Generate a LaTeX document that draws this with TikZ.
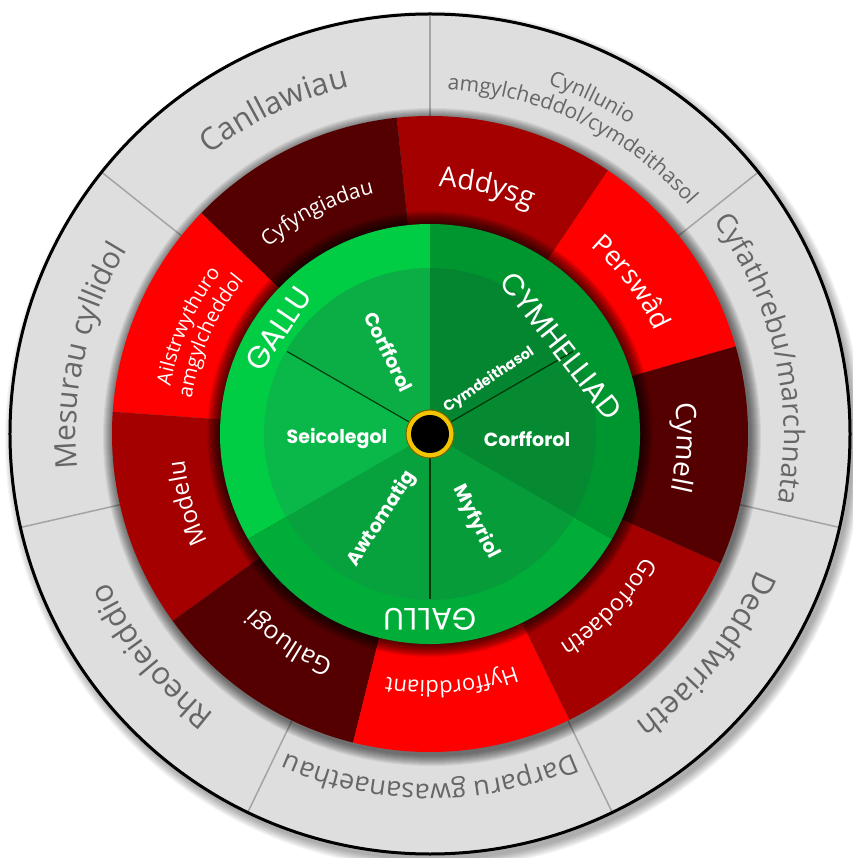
\documentclass[tikz,border=0pt]{standalone}
\usepackage{fontspec}
\setmainfont{Open Sans}
\newfontfamily\popfont{Poppins}
\usetikzlibrary{decorations.text}
\definecolor{greyfill}{HTML}{DEDEDE}
\definecolor{greytxt}{HTML}{666666}
\definecolor{divline}{HTML}{A4A4A4}
\definecolor{redA}{HTML}{FF0000}
\definecolor{redB}{HTML}{A50000}
\definecolor{redC}{HTML}{550000}
\definecolor{gOutL}{HTML}{00CC44}
\definecolor{gOutR}{HTML}{00962F}
\definecolor{gOutB}{HTML}{00AD38}
\definecolor{gInA}{HTML}{0AAE45}
\definecolor{gInB}{HTML}{0AB84A}
\definecolor{gInC}{HTML}{07A23E}
\definecolor{gInD}{HTML}{069C3A}
\definecolor{gInE}{HTML}{058A32}
\definecolor{gInF}{HTML}{04852F}
\definecolor{ringY}{HTML}{F2C500}
\definecolor{ringD}{HTML}{7A6400}
\newcommand\arcText[5]{%
  \path[decorate,decoration={text along path,text align=center,text={|#4|#5}}]
    ({#2+#3}:#1) arc[start angle={#2+#3},end angle={#2-#3},radius=#1];}
\newcommand\pieSlice[4]{\fill[#1] (0,0) -- ({#2}:#4) arc[start angle={#2},end angle={#3},radius=#4] -- cycle;}
\newcommand\gfont[1]{\fontsize{#1pt}{#1pt}\selectfont\color{greytxt}}
\newcommand\rfont[1]{\fontsize{#1pt}{#1pt}\selectfont\color{white}}
\begin{document}
\begin{tikzpicture}[x=1pt,y=1pt,
  gallu/.style={text=white,inner sep=0pt,font=\popfont\fontsize{31pt}{31pt}\selectfont},
  inlab/.style={text=white,inner sep=0pt,font=\popfont\bfseries\fontsize{19pt}{19pt}\selectfont}]
\useasboundingbox (-430,-424) rectangle (422,434);
\fill[white] (-430,-424) rectangle (422,434);
% outer drop shadow
\foreach \k in {0,...,9} \fill[black,opacity=0.035] (4,-6) circle ({420+\k});
% grey ring
\fill[greyfill] (0,0) circle (420);
\foreach \a in {0,...,6} \draw[divline,line width=1.5pt] ({90+\a*360/7}:318) -- ({90+\a*360/7}:420);
% red ring shadow
\foreach \k in {1,...,11} \fill[black,opacity=0.06] (2,-3) circle ({318+\k});
% red ring
\foreach \a/\c in {16/redA,56/redB,96/redC,136/redA,176/redB,216/redC,256/redA,296/redB,336/redC}
  \pieSlice{\c}{\a}{\a+40}{318};
% green shadow
\foreach \k in {1,...,13} \fill[black,opacity=0.07] (0,0) circle ({210+\k});
% green outer ring
\pieSlice{gOutL}{90}{210}{210}
\pieSlice{gOutB}{210}{330}{210}
\pieSlice{gOutR}{-30}{90}{210}
% inner disk
\pieSlice{gInA}{90}{150}{166}
\pieSlice{gInB}{150}{210}{166}
\pieSlice{gInC}{210}{270}{166}
\pieSlice{gInD}{270}{330}{166}
\pieSlice{gInE}{-30}{30}{166}
\pieSlice{gInF}{30}{90}{166}
\foreach \a in {30,150,270} \draw[black!85!green,line width=1.2pt,opacity=0.85] (0,0) -- (\a:165);
% centre
\filldraw[fill=ringY,draw=ringD,line width=1pt] (0,0) circle (24);
\fill[black] (0,0) circle (19);
% outer outline
\draw[black,line width=3pt] (0,0) circle (420);
% grey texts
\arcText{356}{115.71}{40}{\gfont{31}}{Canllawiau}
\arcText{369}{64.29}{40}{\gfont{21}}{Cynllunio}
\arcText{345}{64.29}{40}{\gfont{21}}{amgylcheddol/cymdeithasol}
\arcText{354}{12.86}{40}{\gfont{28}}{Cyfathrebu/marchnata}
\arcText{354}{-38.57}{40}{\gfont{31}}{Deddfwriaeth}
\arcText{350}{270}{40}{\gfont{27}}{Darparu gwasanaethau}
\arcText{354}{218.57}{40}{\gfont{31}}{Rheoleiddio}
\arcText{354}{167.14}{40}{\gfont{30}}{Mesurau cyllidol}
% red texts
\arcText{247}{77}{35}{\rfont{28}}{Addysg}
\arcText{247}{37}{35}{\rfont{27}}{Perswâd}
\arcText{247}{-3}{35}{\rfont{28}}{Cymell}
\arcText{247}{-44}{35}{\rfont{23}}{Gorfodaeth}
\arcText{247}{275}{35}{\rfont{22}}{Hyfforddiant}
\arcText{247}{236}{35}{\rfont{25}}{Galluogi}
\arcText{247}{196}{35}{\rfont{24}}{Modelu}
\arcText{264}{156}{35}{\rfont{20}}{Ailstrwythuro}
\arcText{241}{156}{35}{\rfont{20}}{amgylcheddol}
\arcText{247}{117}{35}{\rfont{21}}{Cyfyngiadau}
% green labels
\node[gallu,rotate=56] (gallu1) at (-152,105) {GALLU};
\node[gallu,font=\popfont\fontsize{30pt}{30pt}\selectfont,rotate=-52] (cymh) at (131,88) {CYMHELLIAD};
\node[gallu,rotate=180] (gallu2) at (0,-185) {GALLU};
\node[inlab,rotate=-64] (corf1) at (-41,82) {Corfforol};
\node[inlab] (seic) at (-93,-5) {Seicolegol};
\node[inlab,rotate=57] (awto) at (-48,-85) {Awtomatig};
\node[inlab,rotate=-63] (myf) at (46,-88) {Myfyriol};
\node[inlab] (corf2) at (97,-5) {Corfforol};
\node[inlab,font=\popfont\bfseries\fontsize{14.5pt}{14.5pt}\selectfont,rotate=34] (cymd) at (59,54) {Cymdeithasol};
\end{tikzpicture}
\end{document}
